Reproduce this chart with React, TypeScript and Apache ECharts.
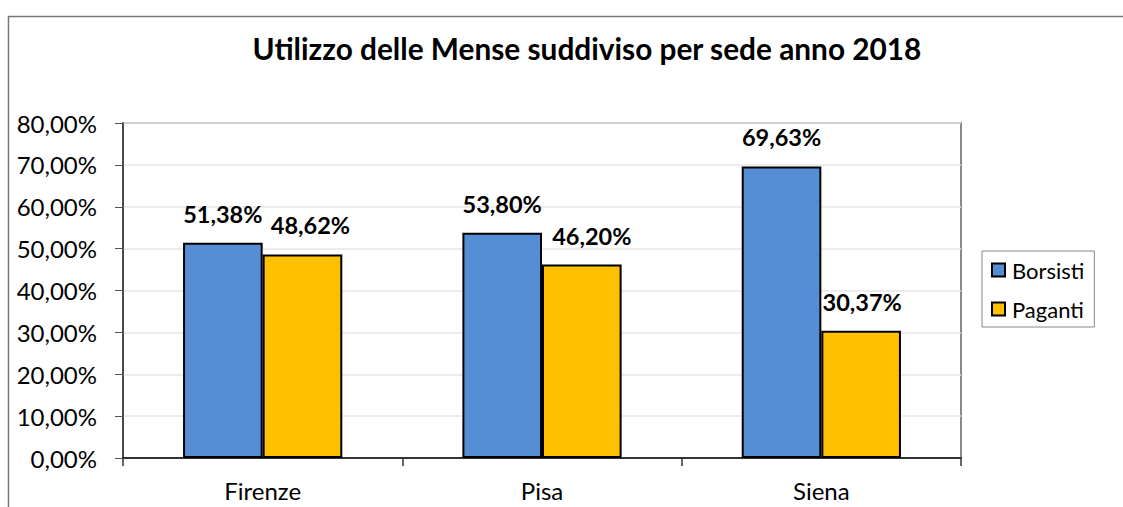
import React, { useEffect, useRef } from "react";
import * as echarts from "echarts";

const categories = ["Firenze", "Pisa", "Siena"];
const borsisti = [51.38, 53.8, 69.63];
const paganti = [48.62, 46.2, 30.37];
const seriesNames = ["Borsisti", "Paganti"];
const titleText = "Utilizzo delle Mense suddiviso per sede anno 2018";

const FONT = "Lato, 'Open Sans', sans-serif";
const fmt = (v: number) => v.toFixed(2).replace(".", ",") + "%";
const pagantiLabelShift = [8, 10, 1];

export default function App() {
  const ref = useRef<HTMLDivElement>(null);
  useEffect(() => {
    if (!ref.current) return;
    const chart = echarts.init(ref.current, undefined, { renderer: "svg" });
    const labelCfg = {
      show: true,
      position: "top" as const,
      distance: 17,
      fontFamily: FONT,
      fontSize: 23.5,
      fontWeight: "bold" as const,
      color: "#000",
      formatter: (p: any) => fmt(p.value),
    };
    chart.setOption({
      animation: false,
      backgroundColor: "#fff",
      textStyle: { fontFamily: FONT },
      title: {
        text: titleText,
        left: 582,
        top: 28,
        textAlign: "center",
        textStyle: { fontFamily: FONT, fontSize: 29.8, fontWeight: "bold", color: "#000" },
      },
      graphic: [
        {
          type: "rect",
          shape: { x: 8.5, y: 16.5, width: 1300, height: 700 },
          style: { fill: "none", stroke: "#777", lineWidth: 1.5 },
          silent: true,
          z: -1,
        },
      ],
      legend: {
        orient: "vertical",
        left: 982,
        top: 251,
        width: 111,
        padding: [8, 10, 7, 9],
        itemGap: 17,
        itemWidth: 13,
        itemHeight: 13,
        icon: "rect",
        borderColor: "#888",
        borderWidth: 1,
        textStyle: { fontFamily: FONT, fontSize: 22, color: "#000", padding: [0, 0, 0, 2] },
        data: seriesNames,
      },
      grid: {
        left: 123,
        top: 123,
        right: 162,
        bottom: 49,
        show: true,
        borderColor: "#8a8a8a",
        borderWidth: 2,
        containLabel: false,
      },
      xAxis: {
        type: "category",
        data: categories,
        axisLine: { lineStyle: { color: "#000", width: 1.5 } },
        axisTick: { show: true, length: 8, lineStyle: { color: "#333", width: 1.5 } },
        axisLabel: { fontFamily: FONT, fontSize: 24, color: "#000", margin: 20 },
      },
      yAxis: {
        type: "value",
        min: 0,
        max: 80,
        interval: 10,
        axisLine: { show: true, lineStyle: { color: "#333", width: 1.5 } },
        axisTick: { show: true, length: 8, lineStyle: { color: "#555", width: 1 } },
        axisLabel: { fontFamily: FONT, fontSize: 24, color: "#000", margin: 26, formatter: (v: number) => fmt(v) },
        splitLine: { show: true, lineStyle: { color: "#e6e6e6", width: 1.5 } },
      },
      series: [
        {
          name: seriesNames[0],
          type: "bar",
          data: borsisti,
          barGap: "0%",
          barCategoryGap: "43%",
          itemStyle: { color: "#558ED5", borderColor: "#000", borderWidth: 2 },
          label: labelCfg,
        },
        {
          name: seriesNames[1],
          type: "bar",
          data: paganti.map((v, i) => ({ value: v, label: { offset: [pagantiLabelShift[i], 0] } })),
          itemStyle: { color: "#FFC000", borderColor: "#000", borderWidth: 2 },
          label: labelCfg,
        },
      ],
    });
    return () => chart.dispose();
  }, []);
  return (
    <div
      ref={ref}
      style={{ position: "fixed", left: 0, top: 0, width: 1123, height: 507 }}
    />
  );
}
